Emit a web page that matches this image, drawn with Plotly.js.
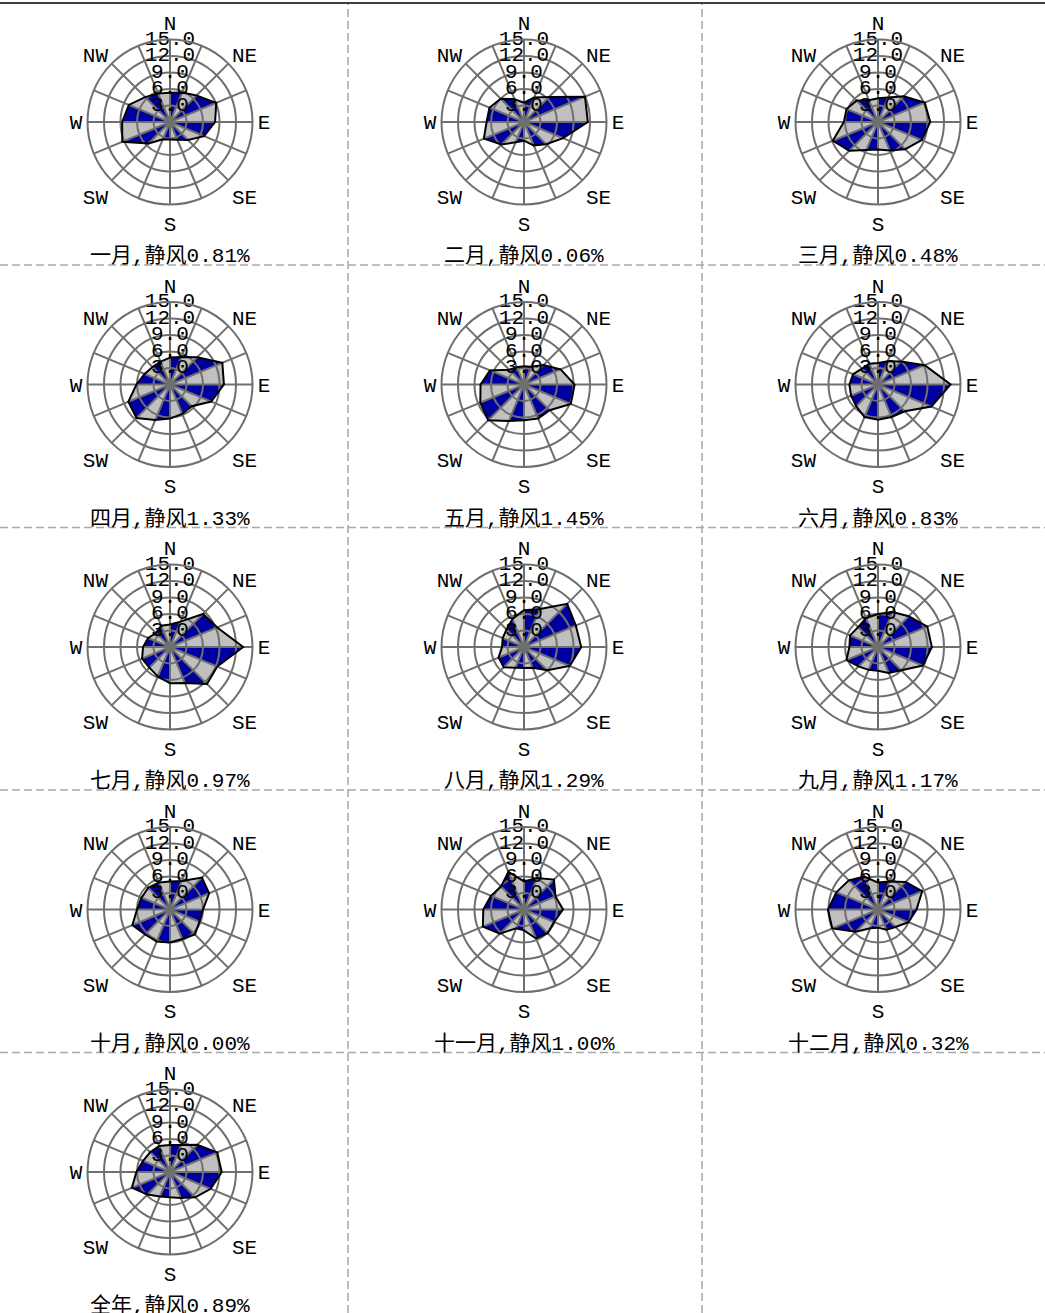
<!DOCTYPE html>
<html>
<head>
<meta charset="utf-8">
<script src="https://cdn.plot.ly/plotly-3.0.1.min.js"></script>
<style>html,body{margin:0;padding:0;background:#fff;}#chart{width:1045px;height:1313px;}</style>
</head>
<body>
<div id="chart"></div>
<script>
// ---- data ----
const directions = ['N','NNE','NE','ENE','E','ESE','SE','SSE','S','SSW','SW','WSW','W','WNW','NW','NNW'];
const compassLabels = ['N','','NE','','E','','SE','','S','','SW','','W','','NW',''];
const radialTicks = [3, 6, 9, 12, 15];
const radialTickText = ['3.0', '6.0', '9.0', '12.0', '15.0'];
const periodNames = ['一月','二月','三月','四月','五月','六月','七月','八月','九月','十月','十一月','十二月','全年'];
const calmPercent = ['0.81','0.06','0.48','1.33','1.45','0.83','0.97','1.29','1.17','0.00','1.00','0.32','0.89'];

const jan = [5.3, 5.8, 6.8, 9.1, 8.2, 6.7, 4.6, 3.5, 3.2, 3.4, 5.5, 9.4, 8.7, 8.1, 6.4, 5.6];
const feb = [3.5, 4.8, 6.4, 12.0, 11.6, 7.7, 5.7, 4.6, 3.4, 4.0, 5.8, 7.9, 6.8, 6.8, 6.0, 4.5];
const mar = [4.3, 4.8, 6.6, 9.2, 9.5, 8.6, 7.0, 5.6, 5.0, 5.5, 7.4, 8.9, 6.2, 6.2, 5.5, 4.3];
const apr = [4.9, 5.4, 7.0, 10.3, 9.8, 8.1, 5.6, 5.8, 6.2, 7.0, 8.6, 8.2, 6.1, 5.0, 4.5, 4.5];
const may = [3.3, 3.5, 5.0, 7.2, 9.2, 9.2, 6.6, 6.7, 6.5, 7.2, 9.2, 8.6, 7.9, 6.7, 3.8, 3.4];
const jun = [3.9, 4.6, 5.9, 9.2, 13.2, 10.5, 6.9, 6.4, 6.4, 6.4, 5.6, 5.3, 5.2, 4.9, 4.1, 4.1];
const jul = [4.1, 5.0, 8.5, 9.3, 13.3, 9.3, 9.5, 7.1, 6.6, 5.8, 5.3, 5.5, 4.9, 4.3, 3.6, 4.2];
const aug = [6.7, 7.5, 11.1, 10.2, 10.4, 9.0, 6.0, 4.1, 3.8, 4.1, 5.2, 5.0, 4.0, 4.2, 4.5, 5.5];
const sep = [6.0, 6.9, 7.9, 9.7, 9.8, 8.8, 6.0, 5.1, 4.3, 4.5, 5.0, 6.2, 5.2, 5.5, 5.1, 5.7];
const oct = [5.1, 5.6, 8.2, 7.7, 6.0, 5.8, 6.4, 5.8, 6.0, 6.3, 6.4, 7.4, 6.0, 5.6, 5.6, 5.3];
const nov = [5.1, 6.2, 7.7, 6.2, 7.1, 5.9, 6.1, 5.7, 3.8, 3.7, 6.2, 8.1, 7.4, 6.5, 5.9, 7.4];
const dec = [4.9, 5.5, 7.1, 8.7, 7.0, 6.0, 4.5, 4.0, 3.3, 3.7, 5.7, 9.0, 9.1, 8.2, 7.5, 6.5];
const annual = [4.9, 5.3, 7.0, 9.3, 9.4, 8.0, 6.5, 5.1, 4.6, 4.8, 5.8, 7.5, 6.1, 5.3, 5.1, 5.1];

const series = [jan, feb, mar, apr, may, jun, jul, aug, sep, oct, nov, dec, annual];

// ---- styling / layout ----
const W = 1045, H = 1313;
const R = 82.5;
const colStep = 354, rowStep = 262.5;
const cx0 = 170, cy0 = 122;
const fillColors = ['#0000A0', '#C0C0C0'];
const gridColor = '#6f6f6f';
const latinFont = 'Liberation Mono, DejaVu Sans Mono, monospace';
const titleFont = 'Liberation Mono, Noto Sans CJK SC, monospace';

const traces = [];
const overlayTraces = [];
const layout = {
  width: W, height: H,
  margin: {l: 0, r: 0, t: 0, b: 0},
  paper_bgcolor: '#ffffff',
  showlegend: false,
  annotations: [],
  shapes: []
};

function pid(n) { return n === 1 ? 'polar' : 'polar' + n; }

const n = series.length;
for (let k = 0; k < n; k++) {
  const col = k % 3, row = Math.floor(k / 3);
  const cx = cx0 + colStep * col;
  const cy = cy0 + rowStep * row;
  const dom = {
    x: [(cx - R) / W, (cx + R) / W],
    y: [1 - (cy + R) / H, 1 - (cy - R) / H]
  };
  const dataId = pid(k + 1);
  const overId = pid(k + 1 + n);
  const vals = series[k];

  // sector fills (alternating colours)
  for (let i = 0; i < directions.length; i++) {
    const j = (i + 1) % directions.length;
    traces.push({
      type: 'scatterpolar', subplot: dataId, mode: 'lines',
      r: [0, vals[i], vals[j], 0],
      theta: [directions[i], directions[i], directions[j], directions[i]],
      fill: 'toself', fillcolor: fillColors[i % 2],
      line: {width: 0, color: fillColors[i % 2]},
      hoverinfo: 'skip'
    });
  }
  // outline
  overlayTraces.push({
    type: 'scatterpolar', subplot: overId, mode: 'lines',
    r: vals.concat([vals[0]]),
    theta: directions.concat([directions[0]]),
    line: {color: '#000000', width: 2},
    hoverinfo: 'skip'
  });
  // radial tick labels
  overlayTraces.push({
    type: 'scatterpolar', subplot: overId, mode: 'text',
    r: radialTicks,
    theta: radialTicks.map(() => directions[0]),
    text: radialTickText,
    textposition: 'middle center',
    textfont: {family: latinFont, size: 21, color: '#000000'},
    cliponaxis: false,
    hoverinfo: 'skip'
  });

  const baseAng = {
    type: 'category', categoryorder: 'array', categoryarray: directions,
    direction: 'clockwise', rotation: 90
  };
  layout[dataId] = {
    domain: dom, bgcolor: 'rgba(0,0,0,0)',
    radialaxis: {range: [0, 15], autorange: false, visible: false},
    angularaxis: Object.assign({}, baseAng, {visible: false})
  };
  layout[overId] = {
    domain: dom, bgcolor: 'rgba(0,0,0,0)',
    radialaxis: {
      range: [0, 15], autorange: false, tickmode: 'array', tickvals: radialTicks,
      showticklabels: false, ticks: '', showline: false,
      showgrid: true, gridcolor: gridColor, gridwidth: 2
    },
    angularaxis: Object.assign({}, baseAng, {
      tickmode: 'array', tickvals: directions, ticktext: compassLabels,
      showline: true, linecolor: gridColor, linewidth: 2,
      showgrid: true, gridcolor: gridColor, gridwidth: 2,
      ticks: '',
      tickfont: {family: latinFont, size: 21, color: '#000000'}
    })
  };

  layout.annotations.push({
    xref: 'paper', yref: 'paper',
    x: cx / W, y: 1 - (cy + 134) / H,
    xanchor: 'center', yanchor: 'middle', showarrow: false,
    text: periodNames[k] + ',静风' + calmPercent[k] + '%',
    font: {family: titleFont, size: 21, color: '#000000'}
  });
}

// frame lines
layout.shapes.push({type: 'line', xref: 'paper', yref: 'paper', x0: 0, x1: 1, y0: 1 - 3 / H, y1: 1 - 3 / H,
  line: {color: '#000000', width: 1.5}, layer: 'below'});
for (let c = 1; c < 3; c++) {
  const x = (cx0 + colStep * (c - 0.5) + 1) / W;
  layout.shapes.push({type: 'line', xref: 'paper', yref: 'paper', x0: x, x1: x, y0: 0, y1: 1 - 4 / H,
    line: {color: '#a8a8a8', width: 1.5, dash: '8px,4px'}, layer: 'below'});
}
for (let r = 0; r < 4; r++) {
  const y = 1 - (265 + rowStep * r) / H;
  layout.shapes.push({type: 'line', xref: 'paper', yref: 'paper', x0: 0, x1: 1, y0: y, y1: y,
    line: {color: '#a8a8a8', width: 1.5, dash: '8px,4px'}, layer: 'below'});
}

Plotly.newPlot('chart', traces.concat(overlayTraces), layout, {staticPlot: true, displayModeBar: false});
</script>
</body>
</html>
